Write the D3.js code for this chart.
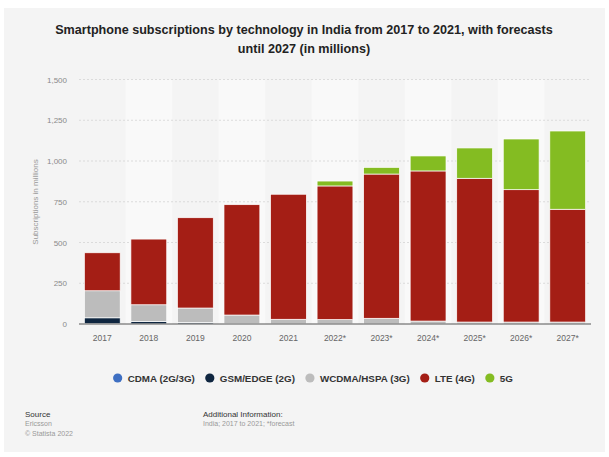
<!DOCTYPE html>
<html>
<head>
<meta charset="utf-8">
<script src="https://cdn.jsdelivr.net/npm/d3@7"></script>
<style>
  body { margin: 0; background: #fff; }
  svg { display: block; font-family: "Liberation Sans", Arial, sans-serif; }
</style>
</head>
<body>
<svg id="chart" width="609" height="457"></svg>
<script>
// Data (millions)
var years = ["2017", "2018", "2019", "2020", "2021", "2022*", "2023*", "2024*", "2025*", "2026*", "2027*"];
var cdma  = [2, 1, 1, 0, 0, 0, 0, 0, 0, 0, 0];
var gsm   = [36, 15, 9, 2, 1, 1, 1, 1, 1, 1, 1];
var wcdma = [166, 102, 88, 53, 28, 26, 34, 17, 11, 11, 11];
var lte   = [233, 403, 554, 677, 767, 820, 885, 921, 882, 812, 692];
var fiveG = [0, 0, 0, 0, 0, 30, 41, 92, 186, 311, 480];
var yTicks = [0, 250, 500, 750, 1000, 1250, 1500];

var series = [
	{ key: "cdma",  label: "CDMA (2G/3G)",     color: "#3e6fc2", values: cdma },
	{ key: "gsm",   label: "GSM/EDGE (2G)",    color: "#0f2640", values: gsm },
	{ key: "wcdma", label: "WCDMA/HSPA (3G)",  color: "#bcbcbc", values: wcdma },
	{ key: "lte",   label: "LTE (4G)",         color: "#a41e15", values: lte },
	{ key: "fiveG", label: "5G",               color: "#84bc22", values: fiveG }
];

var rows = years.map(function(y, i){
	var r = { year: y };
	series.forEach(function(s){ r[s.key] = s.values[i]; });
	return r;
});

var svg = d3.select("#chart");

// panel background
svg.append("rect")
	.attr("x", 4).attr("y", 8)
	.attr("width", 601).attr("height", 444)
	.attr("fill", "#f4f4f4");

// title
svg.append("text")
	.attr("x", 304).attr("y", 34)
	.attr("text-anchor", "middle")
	.attr("font-size", 12.6).attr("font-weight", "bold").attr("fill", "#222")
	.text("Smartphone subscriptions by technology in India from 2017 to 2021, with forecasts");
svg.append("text")
	.attr("x", 304).attr("y", 53)
	.attr("text-anchor", "middle")
	.attr("font-size", 12.6).attr("font-weight", "bold").attr("fill", "#222")
	.text("until 2027 (in millions)");

var margin = { left: 79, right: 591, top: 79.5, bottom: 324 };

var x = d3.scaleBand()
	.domain(years)
	.range([margin.left, margin.right])
	.paddingInner(0.23)
	.paddingOuter(0.115);

var y = d3.scaleLinear()
	.domain([0, 1500])
	.range([margin.bottom, margin.top]);

// alternating column shading
var step = x.step();
svg.append("g").selectAll("rect")
	.data(years.filter(function(d, i){ return i % 2 === 1; }))
	.enter().append("rect")
	.attr("x", function(d){ return x(d) - step * x.paddingInner() / 2; })
	.attr("y", margin.top)
	.attr("width", step)
	.attr("height", margin.bottom - margin.top)
	.attr("fill", "#f9f9f9");

// gridlines
svg.append("g").selectAll("line")
	.data(yTicks.slice(1))
	.enter().append("line")
	.attr("x1", margin.left).attr("x2", margin.right)
	.attr("y1", function(d){ return y(d); })
	.attr("y2", function(d){ return y(d); })
	.attr("stroke", "#d4d4d4")
	.attr("stroke-width", 0.8)
	.attr("stroke-dasharray", "2,2");

// y axis labels
var yAxis = d3.axisLeft(y)
	.tickValues(yTicks)
	.tickSize(0)
	.tickPadding(0)
	.tickFormat(d3.format(","));
var yg = svg.append("g")
	.attr("transform", "translate(67,0)")
	.call(yAxis);
yg.select(".domain").remove();
yg.selectAll("text")
	.attr("font-size", 8).attr("fill", "#8a8a8a")
	.attr("font-family", "Liberation Sans, Arial, sans-serif");

svg.append("text")
	.attr("transform", "translate(38,202) rotate(-90)")
	.attr("text-anchor", "middle")
	.attr("font-size", 8).attr("fill", "#999")
	.text("Subscriptions in millions");

// stacked bars
var stack = d3.stack().keys(series.map(function(s){ return s.key; }));
var stacked = stack(rows);

svg.append("g").selectAll("g")
	.data(stacked)
	.enter().append("g")
	.attr("fill", function(d, i){ return series[i].color; })
	.selectAll("rect")
	.data(function(d){ return d; })
	.enter().append("rect")
	.filter(function(d){ return d[1] - d[0] > 0; })
	.attr("x", function(d){ return x(d.data.year); })
	.attr("y", function(d){ return y(d[1]); })
	.attr("width", x.bandwidth())
	.attr("height", function(d){ return y(d[0]) - y(d[1]); })
	.attr("stroke", "#ffffff")
	.attr("stroke-width", 0.7);

// x axis
var xAxis = d3.axisBottom(x).tickSize(0).tickPadding(0);
var xg = svg.append("g")
	.attr("transform", "translate(0," + margin.bottom + ")")
	.call(xAxis);
xg.select(".domain").remove();
xg.selectAll("text")
	.attr("dy", 17)
	.attr("font-size", 8.5).attr("fill", "#666")
	.attr("font-family", "Liberation Sans, Arial, sans-serif");
svg.append("line")
	.attr("x1", margin.left).attr("x2", margin.right)
	.attr("y1", margin.bottom).attr("y2", margin.bottom)
	.attr("stroke", "#555").attr("stroke-width", 1);

// legend, laid out from measured text widths and centred
var legend = svg.append("g");
var items = legend.selectAll("g")
	.data(series)
	.enter().append("g");
items.append("circle")
	.attr("r", 4.6)
	.attr("fill", function(d){ return d.color; });
items.append("text")
	.attr("x", 10).attr("y", 3.5)
	.attr("font-size", 9.8).attr("font-weight", "bold").attr("fill", "#333")
	.text(function(d){ return d.label; });

var cursor = 0;
items.each(function(){
	var g = d3.select(this),
		w = g.select("text").node().getComputedTextLength();
	g.attr("transform", "translate(" + cursor + ",0)");
	cursor += 10 + w + 15;
});
var legendWidth = cursor - 15 + 4.6;
legend.attr("transform", "translate(" + (313 - legendWidth / 2 + 4.6) + ",378)");

// footer
svg.append("text").attr("x", 25).attr("y", 417)
	.attr("font-size", 8).attr("fill", "#333").text("Source");
svg.append("text").attr("x", 25).attr("y", 426)
	.attr("font-size", 7).attr("fill", "#999").text("Ericsson");
svg.append("text").attr("x", 25).attr("y", 435.5)
	.attr("font-size", 7).attr("fill", "#999").text("© Statista 2022");
svg.append("text").attr("x", 203).attr("y", 417)
	.attr("font-size", 8).attr("fill", "#333").text("Additional Information:");
svg.append("text").attr("x", 203).attr("y", 426)
	.attr("font-size", 7).attr("fill", "#999").text("India; 2017 to 2021; *forecast");
</script>
</body>
</html>
